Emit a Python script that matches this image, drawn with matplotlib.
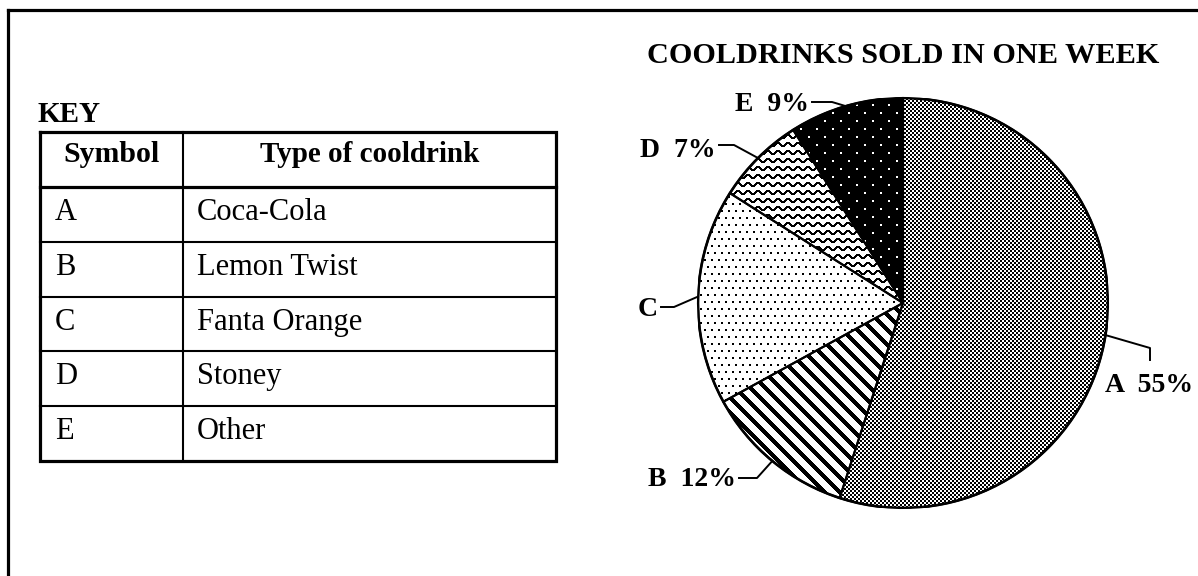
import numpy as np
import matplotlib
matplotlib.use('Agg')
import matplotlib.pyplot as plt
from matplotlib.patches import Circle

# ---------------- data ----------------
symbols = ['A', 'B', 'C', 'D', 'E']
drinks = ['Coca-Cola', 'Lemon Twist', 'Fanta Orange', 'Stoney', 'Other']
shares = [55, 12, 17, 7, 9]
headers = ['Symbol', 'Type of cooldrink']
key_title = 'KEY'
chart_title = 'COOLDRINKS SOLD IN ONE WEEK'
pie_labels = ['A  55%', 'B  12%', 'C', 'D  7%', 'E  9%']

# ---------------- figure ----------------
W, H, DPI = 1198, 576, 100
fig = plt.figure(figsize=(W / DPI, H / DPI), dpi=DPI)
fig.patch.set_facecolor('white')
SERIF = ['Liberation Serif', 'DejaVu Serif']

ax0 = fig.add_axes([0, 0, 1, 1])
ax0.set_xlim(0, W)
ax0.set_ylim(H, 0)
ax0.axis('off')

# outer frame (only top and left visible)
ax0.plot([8, 8], [10, H + 5], color='black', lw=2.3, solid_capstyle='projecting')
ax0.plot([8, W + 5], [10, 10], color='black', lw=2.3, solid_capstyle='projecting')

# ---------------- key table ----------------
x_left, x_div, x_right = 40, 183, 556
y_top, y_head = 132, 187
row_edges = np.linspace(y_head, 461, len(symbols) + 1)
y_bot = row_edges[-1]

ax0.text(37, 122, key_title, fontsize=21, fontweight='bold', family=SERIF,
         ha='left', va='baseline')

thick, thin = 2.3, 1.5
ax0.plot([x_left, x_right, x_right, x_left, x_left],
         [y_top, y_top, y_bot, y_bot, y_top], color='black', lw=thick,
         solid_joinstyle='miter')
ax0.plot([x_left, x_right], [y_head, y_head], color='black', lw=thick)
for y in row_edges[1:-1]:
    ax0.plot([x_left, x_right], [y, y], color='black', lw=thin)
ax0.plot([x_div, x_div], [y_top, y_bot], color='black', lw=thin)

ax0.text((x_left + x_div) / 2, y_top + 30, headers[0], fontsize=21.5,
         fontweight='bold', family=SERIF, ha='center', va='baseline')
ax0.text((x_div + x_right) / 2, y_top + 30, headers[1], fontsize=21,
         fontweight='bold', family=SERIF, ha='center', va='baseline')
for k, (s, d) in enumerate(zip(symbols, drinks)):
    yb = row_edges[k] + 33
    ax0.text(x_left + 15, yb, s, fontsize=22, family=SERIF, ha='left', va='baseline')
    ax0.text(x_div + 14, yb, d, fontsize=22, family=SERIF, ha='left', va='baseline')

# ---------------- pie ----------------
cx, cy, R = 903, 303, 205
axp = fig.add_axes([(cx - R) / W, (H - cy - R) / H, 2 * R / W, 2 * R / H])
wedges, _ = axp.pie(shares, startangle=90, counterclock=False, radius=1,
                    wedgeprops=dict(facecolor='none', edgecolor='black',
                                    linewidth=1.5, zorder=3))

N = 2 * R
ii, jj = np.mgrid[0:N, 0:N]
gi = ii + (cy - R)
gj = jj + (cx - R)

tex_A = ((gi // 2) + (gj // 2)) % 2 == 0
tex_B = ((gj - gi) % 15) < 6
blk = (gi // 7) % 2
tex_C = ((gi % 7) < 2) & (((gj + 3 * blk) % 7) < 2)
amp, lam, per = 1.6, 10.0, 8.0
phase = amp * np.sin(2 * np.pi * gj / lam)
dd = (gi - phase) % per
dd = np.minimum(dd, per - dd)
slope = amp * 2 * np.pi / lam * np.cos(2 * np.pi * gj / lam)
tex_D = dd / np.sqrt(1 + slope ** 2) < 0.85
sh = 8 * ((gi // 8) % 2)
tex_E = ~(((gi % 8) < 2) & (((gj + sh) % 16) < 2))
textures = [tex_A, tex_B, tex_C, tex_D, tex_E]

for w, tex in zip(wedges, textures):
    img = np.where(tex, 0.0, 1.0)
    im = axp.imshow(img, cmap='gray', vmin=0, vmax=1, extent=(-1, 1, -1, 1),
                    interpolation='nearest', zorder=1)
    im.set_clip_path(w)

axp.add_patch(Circle((0, 0), 1, facecolor='none', edgecolor='black', lw=1.9, zorder=4))
axp.set_xlim(-1, 1)
axp.set_ylim(-1, 1)
axp.set_aspect('auto')
axp.axis('off')

# title
ax0.text(cx, 63, chart_title, fontsize=21.8, fontweight='bold', family=SERIF,
         ha='center', va='baseline')

# ---------------- labels with leader lines ----------------
# layout: (text x, text baseline y, ha, elbow points from text side)
layout = [
    (1193, 392, 'right', [(1150, 360), (1150, 348)]),
    (736, 486, 'right', [(739, 478), (757, 478)]),
    (658, 316, 'right', [(661, 307), (674, 307)]),
    (716, 157, 'right', [(719, 145), (734, 145)]),
    (809, 111, 'right', [(812, 102), (832, 102)]),
]
to_ax0 = ax0.transData.inverted()
for w, lab, (tx, ty, ha, pts) in zip(wedges, pie_labels, layout):
    mid = np.deg2rad((w.theta1 + w.theta2) / 2)
    disp = axp.transData.transform((np.cos(mid), np.sin(mid)))
    ax_pt = to_ax0.transform(disp)
    xs = [p[0] for p in pts] + [ax_pt[0]]
    ys = [p[1] for p in pts] + [ax_pt[1]]
    ax0.plot(xs, ys, color='black', lw=1.4, zorder=2)
    ax0.text(tx, ty, lab, fontsize=20, fontweight='bold', family=SERIF,
             ha=ha, va='baseline')

fig.savefig('out.png', dpi=DPI, facecolor='white')
